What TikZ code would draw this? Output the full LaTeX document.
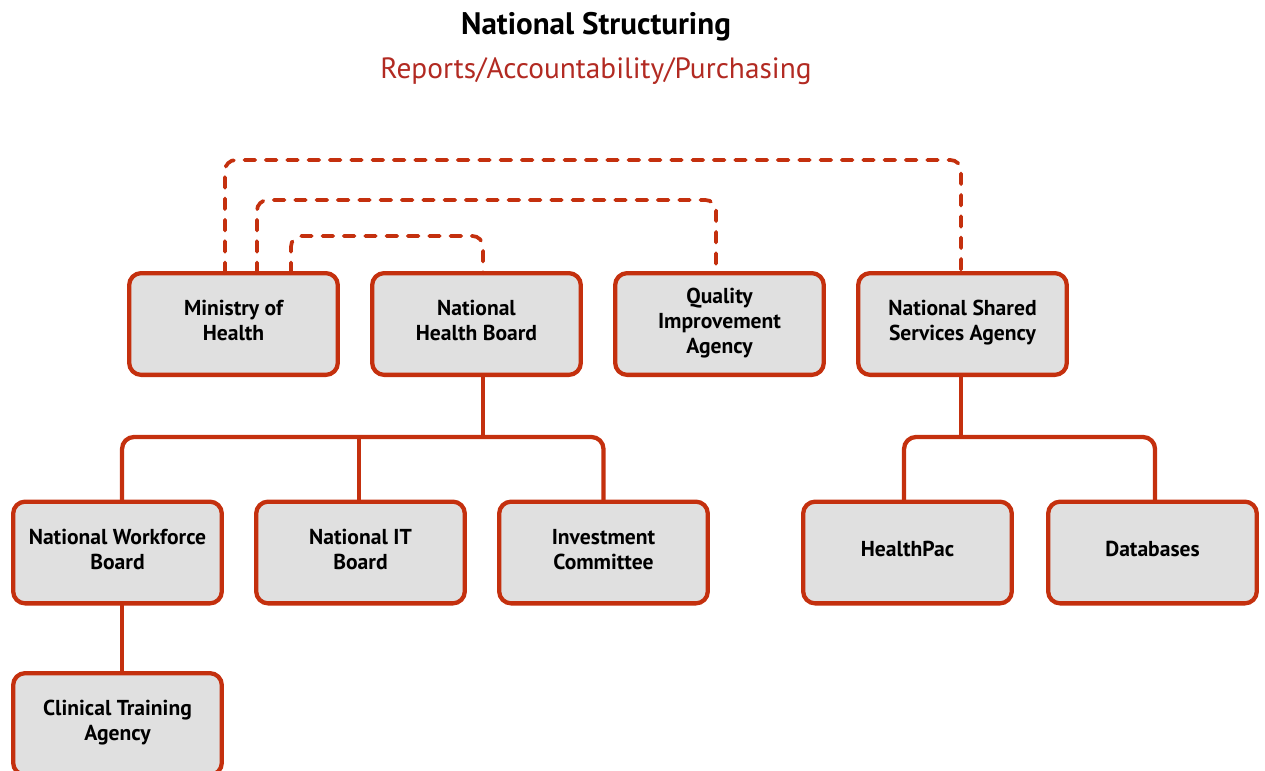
\documentclass[tikz,border=0pt]{standalone}
\usepackage{fontspec}
\setmainfont{PT Sans}
\usetikzlibrary{calc}
\definecolor{boxred}{RGB}{196,48,14}
\definecolor{boxfill}{RGB}{224,224,224}
\definecolor{subred}{RGB}{178,42,34}
\tikzset{
  orgbox/.style={draw=boxred, fill=boxfill, line width=3.2pt, rounded corners=9pt,
    minimum width=156.5pt, minimum height=76.3pt, outer sep=0pt, text depth=5pt,
    align=center, font=\bfseries\fontsize{16.2}{18.75}\selectfont, text=black},
  conn/.style={draw=boxred, line width=3.2pt, rounded corners=9pt},
  dashline/.style={draw=boxred, line width=2.8pt, line cap=round, rounded corners=8pt,
    dash pattern=on 8pt off 8pt},
}
\begin{document}
\begin{tikzpicture}[x=0.75pt,y=-0.75pt]
\useasboundingbox (0,0) rectangle (1265,771);
\node (title) at (596,27) {\bfseries\fontsize{23.3}{26}\selectfont National Structuring};
\node[text=subred] (sub) at (596,71) {\fontsize{22}{26}\selectfont Reports/Accountability/Purchasing};

\node[orgbox] (moh)  at (233.5,324) {Ministry of\\Health};
\node[orgbox] (nhb)  at (476.5,324) {National\\Health Board};
\node[orgbox] (qia)  at (719.5,324) {Quality\\Improvement\\Agency};
\node[orgbox] (nssa) at (962.5,324) {National Shared\\Services Agency};

\node[orgbox] (nwb) at (117.5,552.5) {National Workforce\\Board};
\node[orgbox] (nit) at (360.5,552.5) {National IT\\Board};
\node[orgbox] (ic)  at (603.5,552.5) {Investment\\Committee};
\node[orgbox] (hp)  at (907.5,552.5) {HealthPac};
\node[orgbox] (db)  at (1152.5,552.5) {Databases};

\node[orgbox] (cta) at (117.5,724) {Clinical Training\\Agency};

% solid connectors
\draw[conn] ([xshift=4.9pt]nhb.south) -- ([xshift=4.9pt]nhb.south |- 0,437);
\draw[conn] ([xshift=3.4pt]nwb.north) -- ([xshift=3.4pt]nwb.north |- 0,437) -- (ic.north |- 0,437) -- (ic.north);
\draw[conn] ([xshift=-1.1pt]nit.north) -- ([xshift=-1.1pt]nit.north |- 0,437);
\draw[conn] ([xshift=3.4pt]nwb.south) -- ([xshift=3.4pt]cta.north);
\draw[conn] ([xshift=-1.1pt]nssa.south) -- ([xshift=-1.1pt]nssa.south |- 0,437);
\draw[conn] ([xshift=-2.6pt]hp.north) -- ([xshift=-2.6pt]hp.north |- 0,437) -- ([xshift=1.9pt]db.north |- 0,437) -- ([xshift=1.9pt]db.north);

% dashed connectors
\draw[dashline] ([xshift=-6.4pt]moh.north) -- ([xshift=-6.4pt]moh.north |- 0,160) -- ([xshift=-1.1pt]nssa.north |- 0,160) -- ([xshift=-1.1pt]nssa.north);
\draw[dashline] ([xshift=17.6pt]moh.north) -- ([xshift=17.6pt]moh.north |- 0,200) -- ([xshift=-2.6pt]qia.north |- 0,200) -- ([xshift=-2.6pt]qia.north);
\draw[dashline] ([xshift=43.1pt]moh.north) -- ([xshift=43.1pt]moh.north |- 0,236) -- ([xshift=4.9pt]nhb.north |- 0,236) -- ([xshift=4.9pt]nhb.north);
\end{tikzpicture}
\end{document}
